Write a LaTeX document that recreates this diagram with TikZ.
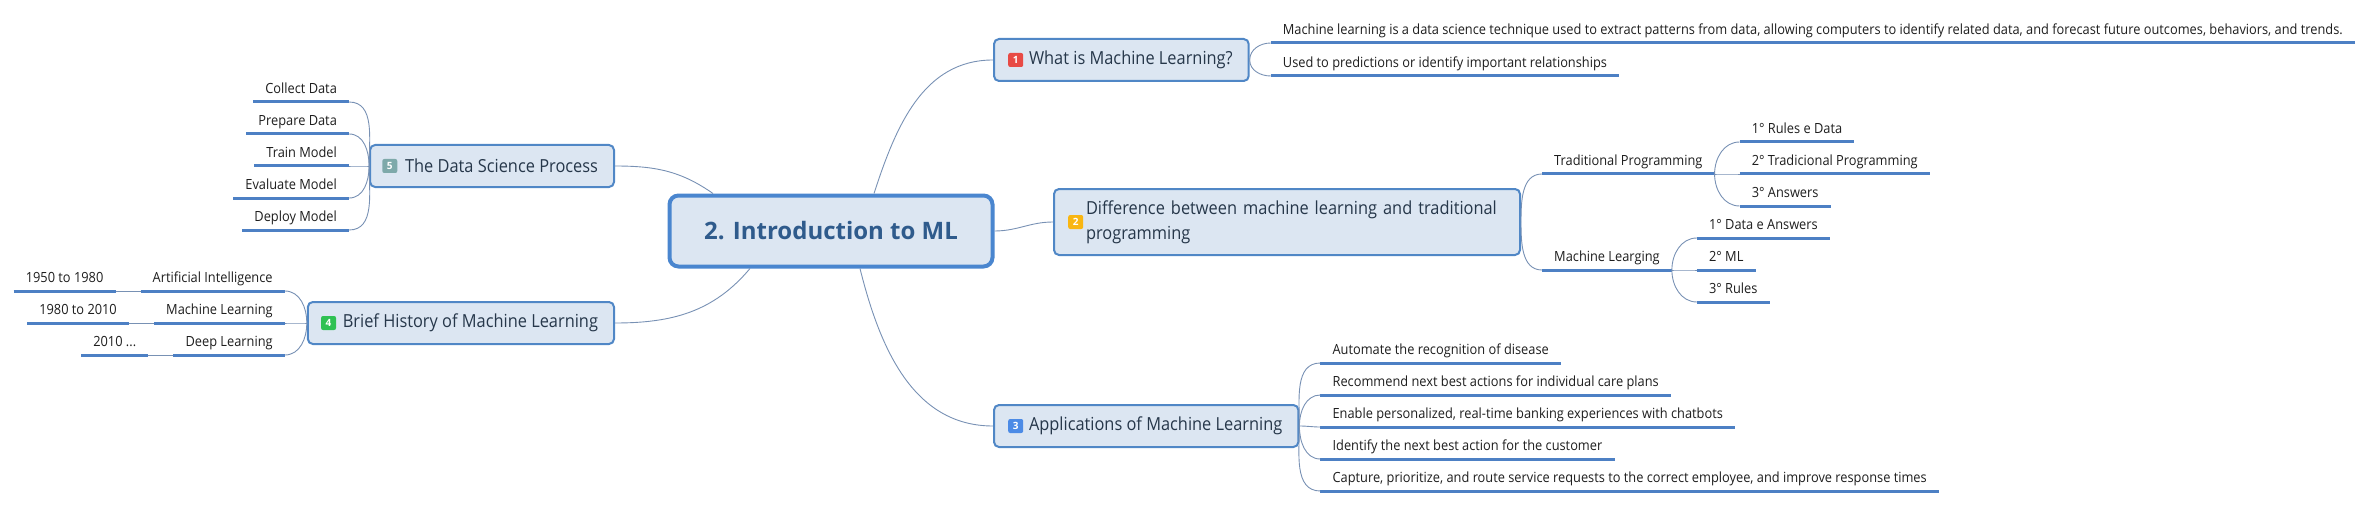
\documentclass[tikz,border=0pt]{standalone}
\usepackage{fontspec}
\setmainfont{Open Sans}
\newfontfamily\leaffont[FakeStretch=0.915]{Open Sans}
\newfontfamily\topicfont[FakeStretch=0.91]{Open Sans}
\usepackage{tikz}
\usetikzlibrary{positioning}

\definecolor{boxfill}{HTML}{DCE6F2}
\definecolor{boxline}{HTML}{5087C6}
\definecolor{rootline}{HTML}{4A86CF}
\definecolor{roottext}{HTML}{2F5B8C}
\definecolor{topictext}{HTML}{26374A}
\definecolor{leaftext}{HTML}{1E1E1E}
\definecolor{ulcolor}{HTML}{4D80C4}
\definecolor{wirecol}{HTML}{7891B4}
\definecolor{bRed}{HTML}{E84A45}
\definecolor{bYellow}{HTML}{F9B612}
\definecolor{bBlue}{HTML}{4C8BE6}
\definecolor{bGreen}{HTML}{2FC153}
\definecolor{bGray}{HTML}{7EA9AA}

\tikzset{
  root/.style = {draw=rootline, line width=4pt, fill=boxfill, rounded corners=9pt,
    minimum width=323pt, minimum height=71pt, text=roottext,
    font=\bfseries\fontsize{24}{28}\selectfont},
  topic/.style = {draw=boxline, line width=2pt, fill=boxfill, rounded corners=5pt,
    minimum height=42pt, inner xsep=16pt, text=topictext,
    font=\topicfont\fontsize{18}{25}\selectfont},
  badge/.style = {fill=#1, rounded corners=2pt, minimum width=15pt, minimum height=14pt,
    inner sep=0pt, text=white, font=\bfseries\fontsize{10}{10}\selectfont},
  leaf/.style = {inner xsep=12pt, inner ysep=4pt, text height=11pt, text depth=4pt,
    text=leaftext, font=\leaffont\fontsize{14}{16}\selectfont},
  leafR/.style = {leaf, anchor=south west},
  leafL/.style = {leaf, anchor=south east},
  uline/.style = {draw=ulcolor, line width=3pt},
  wire/.style = {draw=wirecol, line width=0.9pt},
}

\begin{document}
\begin{tikzpicture}[x=1pt, y=-1pt]
\useasboundingbox (0,0) rectangle (2370,508);

% central topic
\node [root] (root) at (831,231) {2. Introduction to ML};

% main topics
\node [topic, anchor=west] (what) at (993,60) {\hspace*{19pt}What is Machine Learning?};
\node [topic, anchor=west, minimum width=466pt, minimum height=66pt, inner xsep=13pt,
  text width=440pt, align=left] (diff) at (1053,222)
  {\hspace*{19pt}\begin{tabular}{@{}l@{}}Difference between machine learning and traditional\\programming\end{tabular}};
\node [topic, anchor=west] (apps) at (993,426) {\hspace*{19pt}Applications of Machine Learning};
\node [topic, anchor=east] (hist) at (615,323) {\hspace*{19pt}Brief History of Machine Learning};
\node [topic, anchor=east] (dsp) at (615,166) {\hspace*{19pt}The Data Science Process};

\node [badge=bRed, right=15pt of what.west] (b1) {1};
\node [badge=bYellow, right=15pt of diff.west] (b2) {2};
\node [badge=bBlue, right=15pt of apps.west] (b3) {3};
\node [badge=bGreen, right=14pt of hist.west] (b4) {4};
\node [badge=bGray, right=13pt of dsp.west] (b5) {5};

% what is ML
\node [leafR] (what1) at ([xshift=21pt]what.east |- 0,43) {Machine learning is a data science technique used to extract patterns from data, allowing computers to identify related data, and forecast future outcomes, behaviors, and trends.};
\node [leafR] (what2) at ([xshift=21pt]what.east |- 0,76) {Used to predictions or identify important relationships};

% difference
\node [leafR] (trad) at ([xshift=21pt]diff.east |- 0,174) {Traditional Programming};
\node [leafR] (mlg) at ([xshift=21pt]diff.east |- 0,270) {Machine Learging};
\node [leafR] (trad1) at ([xshift=25pt]trad.south east |- 0,142) {1° Rules e Data};
\node [leafR] (trad2) at ([xshift=25pt]trad.south east) {2° Tradicional Programming};
\node [leafR] (trad3) at ([xshift=25pt]trad.south east |- 0,206) {3° Answers};
\node [leafR] (mlg1) at ([xshift=25pt]mlg.south east |- 0,238) {1° Data e Answers};
\node [leafR] (mlg2) at ([xshift=25pt]mlg.south east) {2° ML};
\node [leafR] (mlg3) at ([xshift=25pt]mlg.south east |- 0,302) {3° Rules};

% applications
\node [leafR] (app1) at ([xshift=21pt]apps.east |- 0,363) {Automate the recognition of disease};
\node [leafR] (app2) at ([xshift=21pt]apps.east |- 0,395) {Recommend next best actions for individual care plans};
\node [leafR] (app3) at ([xshift=21pt]apps.east |- 0,427) {Enable personalized, real-time banking experiences with chatbots};
\node [leafR] (app4) at ([xshift=21pt]apps.east |- 0,459) {Identify the next best action for the customer};
\node [leafR] (app5) at ([xshift=21pt]apps.east |- 0,491) {Capture, prioritize, and route service requests to the correct employee, and improve response times};

% data science process
\node [leafL] (ds1) at ([xshift=-20pt]dsp.west |- 0,102) {Collect Data};
\node [leafL] (ds2) at ([xshift=-20pt]dsp.west |- 0,134) {Prepare Data};
\node [leafL] (ds3) at ([xshift=-20pt]dsp.west |- 0,166) {Train Model};
\node [leafL] (ds4) at ([xshift=-20pt]dsp.west |- 0,198) {Evaluate Model};
\node [leafL] (ds5) at ([xshift=-20pt]dsp.west |- 0,230) {Deploy Model};

% history
\node [leafL] (ai) at ([xshift=-22pt]hist.west |- 0,291) {Artificial Intelligence};
\node [leafL] (mlh) at ([xshift=-22pt]hist.west |- 0,323) {Machine Learning};
\node [leafL] (dl) at ([xshift=-22pt]hist.west |- 0,355) {Deep Learning};
\node [leafL] (ai0) at ([xshift=-25pt]ai.south west) {1950 to 1980};
\node [leafL] (mlh0) at ([xshift=-25pt]mlh.south west) {1980 to 2010};
\node [leafL] (dl0) at ([xshift=-25pt]dl.south west) {2010 ...};

% underlines
\foreach \n in {what1,what2,trad,mlg,trad1,trad2,trad3,mlg1,mlg2,mlg3,
  app1,app2,app3,app4,app5,ds1,ds2,ds3,ds4,ds5,ai,mlh,dl,ai0,mlh0,dl0}
  \draw [uline] (\n.south west) -- (\n.south east);

% central to main topics
\draw [wire] ([xshift=43pt]root.north) to[out=72, in=180] (what.west);
\draw [wire] (root.east) to[out=0, in=180] (diff.west);
\draw [wire] ([xshift=29pt]root.south) to[out=-76, in=180] (apps.west);
\draw [wire] ([xshift=-118pt]root.north) to[out=145, in=0] (dsp.east);
\draw [wire] ([xshift=-81pt]root.south) to[out=-130, in=0] (hist.east);

% main topics to leaves
\foreach \n/\a in {what1/90, what2/-90}
  \draw [wire] (what.east) to[out=\a, in=180] (\n.south west);
\foreach \n/\a in {trad/90, mlg/-90}
  \draw [wire] (diff.east) to[out=\a, in=180] (\n.south west);
\foreach \n/\a in {trad1/90, trad2/0, trad3/-90}
  \draw [wire] (trad.south east) to[out=\a, in=180] (\n.south west);
\foreach \n/\a in {mlg1/90, mlg2/0, mlg3/-90}
  \draw [wire] (mlg.south east) to[out=\a, in=180] (\n.south west);
\foreach \n/\a in {app1/90, app2/90, app3/0, app4/-90, app5/-90}
  \draw [wire] (apps.east) to[out=\a, in=180] (\n.south west);
\foreach \n/\a in {ds1/90, ds2/90, ds3/180, ds4/-90, ds5/-90}
  \draw [wire] (dsp.west) to[out=\a, in=0] (\n.south east);
\foreach \n/\a in {ai/90, mlh/180, dl/-90}
  \draw [wire] (hist.west) to[out=\a, in=0] (\n.south east);
\foreach \n in {ai, mlh, dl}
  \draw [wire] (\n0.south east) -- (\n.south west);
\end{tikzpicture}
\end{document}
